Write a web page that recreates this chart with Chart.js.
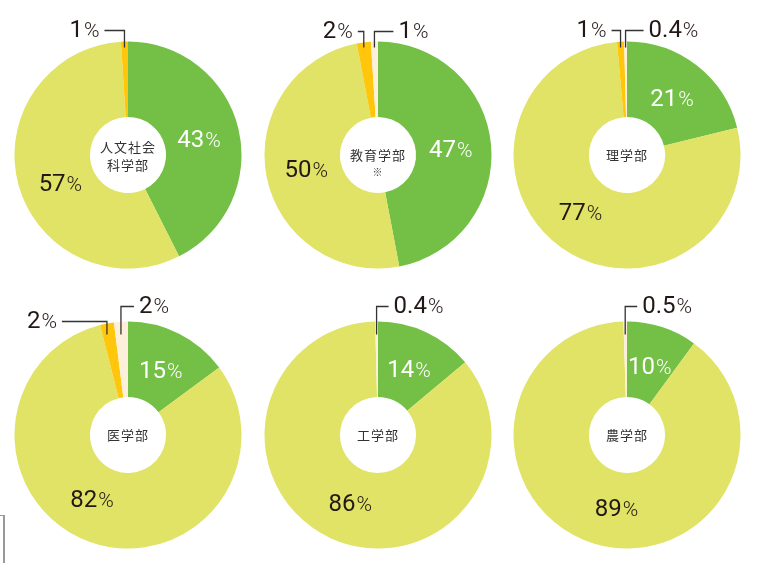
<!DOCTYPE html>
<html>
<head>
<meta charset="utf-8">
<script src="https://cdn.jsdelivr.net/npm/chart.js@4.4.1/dist/chart.umd.min.js"></script>
<style>
  body { margin: 0; background: #fff; width: 763px; height: 563px; position: relative; overflow: hidden; }
  canvas { position: absolute; }
  .frame { position: absolute; left: -2px; top: 515px; width: 5px; height: 60px; border-top: 1px solid #999; border-right: 2px solid #999; }
</style>
</head>
<body>
<canvas id="c0" width="250" height="280"></canvas>
<canvas id="c1" width="250" height="280"></canvas>
<canvas id="c2" width="250" height="280"></canvas>
<canvas id="c3" width="250" height="280"></canvas>
<canvas id="c4" width="250" height="280"></canvas>
<canvas id="c5" width="250" height="280"></canvas>
<div class="frame"></div>
<script>
// faculty names shown in the hole of each doughnut
const faculties = [["人文社会", "科学部"], ["教育学部", "※"], ["理学部"], ["医学部"], ["工学部"], ["農学部"]];

// shares in %, one value per faculty
const greenShare = [43, 47, 21, 15, 14, 10];
const lightShare = [57, 50, 77, 82, 86, 89];
const orangeShare = [1, 2, 1, 2, 0, 0];
const creamShare = [0, 1, 0.4, 2, 0.4, 0.5];

const colors = ["#74bf46", "#e0e366", "#ffc60b", "#fdf0da"];

// where each doughnut sits on the page (centre)
const centers = [[128, 155], [377.5, 155], [626.5, 155], [128, 435], [377.5, 435], [626.5, 435]];

// small turn (degrees) of the big light slice's label away from its mid angle
const lightLabelTurn = [-7, 0, 4, 10, -2, -9];

// callout leaders for the small slices: len = horizontal run, lift = above the rim, dip = into the slice
const callouts = [
  { 2: { len: 20, lift: 11, dip: 6 } },
  { 2: { len: 6, lift: 10, dip: 6 }, 3: { len: 19, lift: 10, dip: 6 } },
  { 2: { len: 9, lift: 11, dip: 6 }, 3: { len: 18, lift: 11, dip: 6 } },
  { 2: { len: 45, lift: 0, dip: 13 }, 3: { len: 13, lift: 15, dip: 13 } },
  { 3: { len: 12, lift: 15, dip: 13 } },
  { 3: { len: 12, lift: 15, dip: 13 } },
];

const numFont = "Roboto, sans-serif";
const cjkFont = "'Noto Sans CJK JP', sans-serif";

function drawPct(ctx, value, x, y, color, align) {
  const num = String(value);
  ctx.font = "400 24px " + numFont;
  const w1 = ctx.measureText(num).width;
  ctx.font = "300 21px " + numFont;
  const w2 = ctx.measureText("%").width + 1;
  let left = x - (w1 + w2) / 2;
  if (align === "right") left = x - (w1 + w2);
  if (align === "left") left = x;
  ctx.fillStyle = color;
  ctx.textAlign = "left";
  ctx.textBaseline = "alphabetic";
  ctx.font = "400 24px " + numFont;
  ctx.fillText(num, left, y + 8.5);
  ctx.font = "300 21px " + numFont;
  ctx.fillText("%", left + w1 + 1, y + 8.5);
}

const labelPlugin = {
  id: "labels",
  afterDatasetsDraw(chart) {
    const ctx = chart.ctx;
    const idx = chart.options.plugins.labels.index;
    const meta = chart.getDatasetMeta(0);
    const values = chart.data.datasets[0].data;
    ctx.save();
    meta.data.forEach((arc, i) => {
      const v = values[i];
      if (!v) return;
      const p = arc.getProps(["x", "y", "startAngle", "endAngle", "outerRadius"], true);
      let mid = (p.startAngle + p.endAngle) / 2;
      if (v >= 5) {
        if (i === 1) mid += lightLabelTurn[idx] * Math.PI / 180;
        const r = 73;
        drawPct(ctx, v, p.x + Math.cos(mid) * r, p.y + Math.sin(mid) * r, i === 0 ? "#fff" : "#231815", "center");
      } else {
        const c = callouts[idx][i];
        const lx = p.x + Math.cos(mid) * p.outerRadius;
        const top = p.y - p.outerRadius;
        const ly = top - c.lift;
        const dir = i === 2 ? -1 : 1;
        const ex = lx + dir * c.len;
        ctx.strokeStyle = "#333";
        ctx.lineWidth = 1.3;
        ctx.beginPath();
        ctx.moveTo(lx, top + c.dip);
        ctx.lineTo(lx, ly);
        ctx.lineTo(ex, ly);
        ctx.stroke();
        drawPct(ctx, v, ex + dir * 5, ly - 2, "#231815", dir < 0 ? "right" : "left");
      }
    });
    // faculty name in the hole
    const cx = meta.data[0].x, cy = meta.data[0].y;
    const lines = faculties[idx];
    ctx.fillStyle = "#333";
    ctx.textAlign = "center";
    ctx.textBaseline = "middle";
    if ("letterSpacing" in ctx) ctx.letterSpacing = "1px";
    if (lines.length === 2 && lines[1] === "※") {
      ctx.font = "13px " + cjkFont;
      ctx.fillText(lines[0], cx, cy);
      ctx.font = "10px " + cjkFont;
      ctx.fillText(lines[1], cx, cy + 17);
    } else if (lines.length === 2) {
      ctx.font = "13px " + cjkFont;
      ctx.fillText(lines[0], cx, cy - 8);
      ctx.fillText(lines[1], cx, cy + 10);
    } else {
      ctx.font = "13px " + cjkFont;
      ctx.fillText(lines[0], cx, cy);
    }
    ctx.restore();
  },
};

faculties.forEach((name, i) => {
  const el = document.getElementById("c" + i);
  el.style.left = (centers[i][0] - 125) + "px";
  el.style.top = (centers[i][1] - 155) + "px";
  new Chart(el, {
    type: "doughnut",
    data: {
      labels: ["green", "light", "orange", "cream"],
      datasets: [{
        data: [greenShare[i], lightShare[i], orangeShare[i], creamShare[i]],
        backgroundColor: colors,
        borderWidth: 0,
      }],
    },
    options: {
      responsive: false,
      animation: false,
      cutout: "33.5%",
      layout: { padding: { left: 11.5, right: 11.5, top: 41.5, bottom: 11.5 } },
      plugins: {
        legend: { display: false },
        tooltip: { enabled: false },
        labels: { index: i },
      },
    },
    plugins: [labelPlugin],
  });
});
</script>
</body>
</html>
